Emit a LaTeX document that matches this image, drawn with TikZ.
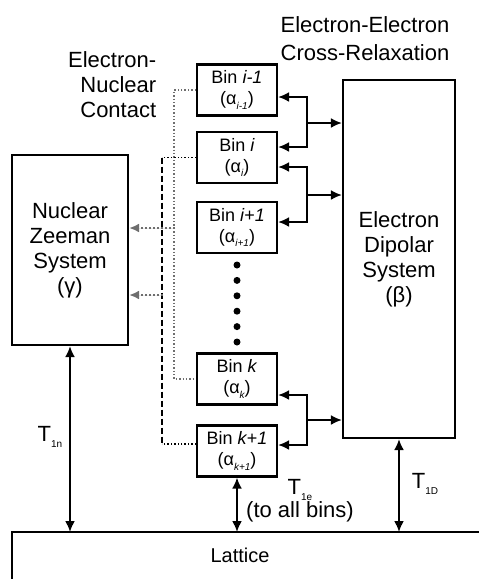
\documentclass[tikz,border=0pt]{standalone}
\usepackage{fontspec}
\setmainfont{Liberation Sans}
\usetikzlibrary{arrows.meta, positioning, calc}
\definecolor{cdot}{HTML}{6E6E6E}
\newcommand{\lowsub}[1]{\raisebox{-0.45ex}{\tiny #1}}
\tikzset{
  every picture/.style={line width=0.8pt},
  sysbox/.style={draw, line width=1.1pt, align=center, font=\fontsize{11}{12.5}\selectfont},
  binbox/.style={draw, line width=1.1pt, minimum width=40pt, minimum height=25.5pt, align=center, inner sep=1pt, font=\fontsize{9}{10.5}\selectfont},
  heading/.style={align=center, inner sep=0pt, font=\fontsize{11}{12.5}\selectfont},
  rate/.style={align=center, inner sep=0pt, font=\fontsize{11}{11.5}\selectfont},
  link/.style={-{Latex[length=5.5pt, width=5pt]}, line width=1pt},
  relax/.style={{Latex[length=5.5pt, width=5pt]}-{Latex[length=5.5pt, width=5pt]}, line width=1pt},
  contact/.style={draw=cdot, densely dotted, line width=0.7pt},
  contactbold/.style={dash pattern=on 3pt off 1.5pt, line width=1pt},
  tonuc/.style={-{Latex[length=5pt, width=4.5pt]}, draw=cdot, fill=cdot, densely dotted, line width=1pt},
}

\begin{document}
\begin{tikzpicture}[x=0.5pt, y=-0.5pt]
  \useasboundingbox (0,0) rectangle (479,579);
  % titles
  \node[heading, align=right, anchor=east] (encap) at (157,85) {Electron-\\Nuclear\\Contact};
  \node[heading, font=\fontsize{11}{14}\selectfont] (eecap) at (365,39) {Electron-Electron\\Cross-Relaxation};
  % reservoirs
  \node[sysbox, minimum width=58pt, minimum height=95pt] (nuc) at (70,250) {Nuclear\\Zeeman\\System\\(γ)};
  \node[sysbox, minimum width=56pt, minimum height=179pt] (dip) at (399,259) {Electron\\Dipolar\\System\\(β)};
  % spectral bins
  \node[binbox] (bin1) at (237,90) {Bin \textit{i-1}\\(α\lowsub{\itshape i-1})};
  \node[binbox] (bin2) at (237,157.5) {Bin \textit{i}\\(α\lowsub{\itshape i})};
  \node[binbox] (bin3) at (237,227.5) {Bin \textit{i+1}\\(α\lowsub{\itshape i+1})};
  \node[binbox] (bin4) at (237,379) {Bin \textit{k}\\(α\lowsub{\itshape k})};
  \node[binbox] (bin5) at (237,451) {Bin \textit{k+1}\\(α\lowsub{\itshape k+1})};
  \foreach \i in {0,...,5}
    \fill (237,{265+15.4*\i}) circle (3.5);
  % lattice
  \draw[line width=1.1pt] (12,579) |- (479,532);
  \node[heading, font=\fontsize{10}{12}\selectfont] (lattice) at (240,555) {Lattice};
  \coordinate (lat) at (240,532);
  % electron-electron cross-relaxation
  \coordinate (j1) at (307,123);
  \coordinate (j2) at (307,195);
  \coordinate (j3) at (307,420);
  \draw[link] (j1) -- (j1 -| dip.west);
  \draw[link] (j1) |- ([yshift=-3.5pt]bin1.east);
  \draw[link] (j1) |- ([yshift=5.25pt]bin2.east);
  \draw[link] (j2) -- (j2 -| dip.west);
  \draw[link] (j2) |- ([yshift=-4.75pt]bin2.east);
  \draw[link] (j2) |- ([yshift=2.75pt]bin3.east);
  \draw[link] (j3) -- (j3 -| dip.west);
  \draw[link] (j3) |- ([yshift=-8pt]bin4.east);
  \draw[link] (j3) |- ([yshift=3pt]bin5.east);
  % electron-nuclear contact
  \draw[contact] (bin1.west) -- ++(-22,0) |- (bin4.west);
  \draw[contact, draw=black] (bin2.west) -- ++(-34,0) coordinate (c2);
  \draw[contact, draw=black] ([yshift=3.5pt]bin5.west) -- ++(-34,0) coordinate (c5);
  \draw[contactbold] (c2) -- (c5);
  \coordinate (tap1) at (175,228);
  \coordinate (tap2) at (163,295);
  \draw[tonuc] (tap1) -- (tap1 -| nuc.east);
  \draw[tonuc] (tap2) -- (tap2 -| nuc.east);
  % spin-lattice relaxation
  \draw[relax] (nuc.south) -- (nuc.south |- lat);
  \draw[relax] (bin5.south) -- (bin5.south |- lat);
  \draw[relax] (dip.south) -- (dip.south |- lat);
  \node[rate] (t1n) at (50,437) {T\lowsub{1n}};
  \node[rate] (t1e) at (300,501) {T\lowsub{1e}\\(to all bins)};
  \node[rate] (t1d) at (425,484) {T\lowsub{1D}};
\end{tikzpicture}
\end{document}
